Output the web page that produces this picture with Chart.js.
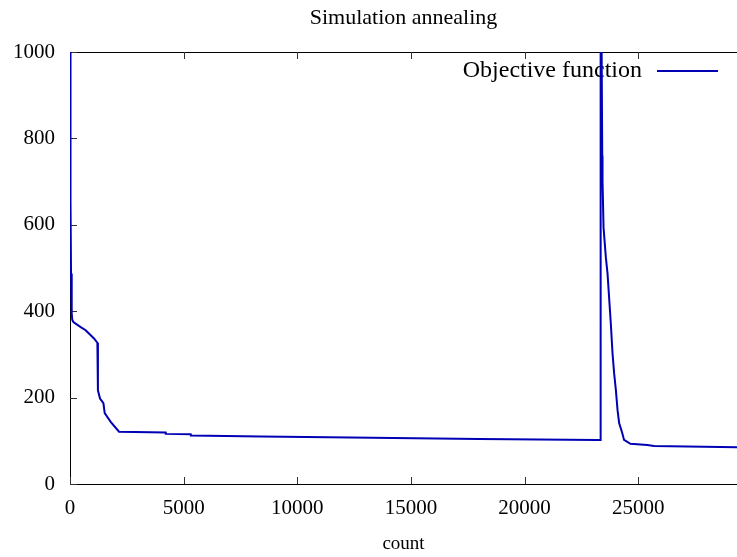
<!DOCTYPE html>
<html>
<head>
<meta charset="utf-8">
<script src="https://cdn.jsdelivr.net/npm/chart.js@4"></script>
<style>
  html, body { margin: 0; padding: 0; background: #fff; }
  #wrap { width: 737px; height: 557px; }
</style>
</head>
<body>
<div id="wrap"><canvas id="chart"></canvas></div>
<script>
// Data
const counts = [0, 10, 20, 37, 45, 75, 100, 150, 470, 690, 1056, 1205, 1225, 1232, 1320, 1470, 1527,
  1790, 2157, 4210, 4215, 5310, 5320, 8400, 12350, 18000, 23200, 23347, 23350, 23420, 23433,
  23477, 23578, 23653, 23798, 23873, 23944, 24019, 24094, 24164, 24300, 24380, 24660, 25400, 25700, 29400];
const objective = [1600, 1100, 850, 656, 487, 395, 380, 375, 363, 356, 337, 327, 324, 217, 198, 187, 164,
  144, 121, 119, 116, 115, 112, 110, 107.5, 104, 102, 102, 1400, 760, 702,
  594, 525, 487, 371, 302, 256, 218, 171, 141, 118, 102, 93, 90, 88, 85];
const xTickValues = [0, 5000, 10000, 15000, 20000, 25000];
const yTickValues = [0, 200, 400, 600, 800, 1000];
const seriesLabel = 'Objective function';
const chartTitle = 'Simulation annealing';
const xTitle = 'count';

const LINE_COLOR = '#0000b4';
const FAMILY = "'Liberation Serif', 'Times New Roman', serif";
const TICK_FONT = { family: FAMILY, size: 21 };

Chart.defaults.font.family = FAMILY;
Chart.defaults.color = '#000';

const fixTicks = values => s => { s.ticks = values.map(v => ({ value: v })); };

// Ticks drawn inward like gnuplot, plus legend inside the plot
const innerTicks = {
  id: 'innerTicks',
  beforeDatasetsDraw(chart) {
    const { ctx, chartArea: a, scales } = chart;
    const len = 7;
    ctx.save();
    ctx.strokeStyle = '#333';
    ctx.lineWidth = 1;
    ctx.beginPath();
    scales.x.ticks.forEach(t => {
      const px = Math.round(scales.x.getPixelForValue(t.value)) + 0.5;
      ctx.moveTo(px, a.bottom); ctx.lineTo(px, a.bottom - len);
      ctx.moveTo(px, a.top); ctx.lineTo(px, a.top + len);
    });
    scales.y.ticks.forEach(t => {
      const py = Math.round(scales.y.getPixelForValue(t.value)) + 0.5;
      ctx.moveTo(a.left, py); ctx.lineTo(a.left + len, py);
    });
    ctx.stroke();

    // legend
    const ly = a.top + 19;
    ctx.font = `24px ${FAMILY}`;
    ctx.fillStyle = '#000';
    ctx.textAlign = 'right';
    ctx.textBaseline = 'middle';
    ctx.fillText(chart.data.datasets[0].label, a.right - 95, ly);
    ctx.strokeStyle = LINE_COLOR;
    ctx.lineWidth = 2;
    ctx.beginPath();
    ctx.moveTo(a.right - 80, ly);
    ctx.lineTo(a.right - 19, ly);
    ctx.stroke();
    ctx.restore();
  }
};

new Chart(document.getElementById('chart'), {
  type: 'line',
  data: {
    datasets: [{
      label: seriesLabel,
      data: counts.map((c, i) => ({ x: c, y: objective[i] })),
      borderColor: LINE_COLOR,
      borderWidth: 2,
      pointRadius: 0,
      tension: 0,
      fill: false
    }]
  },
  options: {
    responsive: true,
    maintainAspectRatio: false,
    animation: false,
    layout: { padding: 0 },
    plugins: {
      legend: { display: false },
      title: { display: false },
      tooltip: { enabled: false }
    },
    scales: {
      x: {
        type: 'linear',
        position: 'bottom',
        min: 0,
        max: 29350,
        afterBuildTicks: fixTicks(xTickValues),
        grid: { display: false },
        border: { display: true, color: '#000', width: 1 },
        ticks: { maxRotation: 0, autoSkip: false, padding: 4, font: TICK_FONT, color: '#000', callback: v => String(v) },
        title: { display: true, text: xTitle, font: { family: FAMILY, size: 19 }, color: '#000', padding: { top: 0, bottom: 2 } },
        afterFit: s => { s.height = 73; }
      },
      x2: {
        type: 'linear',
        axis: 'x',
        position: 'top',
        min: 0,
        max: 29350,
        afterBuildTicks: fixTicks(xTickValues),
        grid: { display: false },
        border: { display: true, color: '#000', width: 1 },
        ticks: { display: false },
        title: { display: true, text: chartTitle, font: { family: FAMILY, size: 22 }, color: '#000', padding: { top: 5, bottom: 0 } },
        afterFit: s => { s.height = 52; }
      },
      y: {
        min: 0,
        max: 1000,
        afterBuildTicks: fixTicks(yTickValues),
        grid: { display: false },
        border: { display: true, color: '#000', width: 1 },
        ticks: { padding: 7, font: TICK_FONT, color: '#000', callback: v => String(v) },
        afterFit: s => { s.width = 70; }
      }
    }
  },
  plugins: [innerTicks]
});
</script>
</body>
</html>
